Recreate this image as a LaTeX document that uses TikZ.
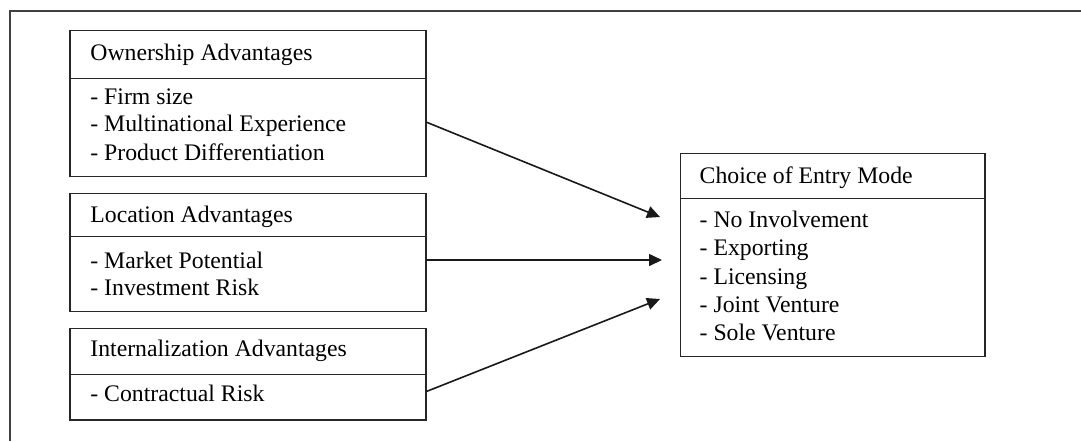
\documentclass[tikz,border=0pt]{standalone}
\usepackage{fontspec}
\setmainfont{Liberation Serif}
\usetikzlibrary{arrows.meta}
\begin{document}
\begin{tikzpicture}[x=0.5pt,y=-0.5pt,
  frame/.style={draw=black!75, line width=0.7pt},
  box/.style={draw=black!85, line width=0.6pt, anchor=north west, inner sep=0pt, outer sep=0pt},
  txt/.style={anchor=base west, inner sep=0pt, font=\fontsize{11.87}{14.2}\selectfont},
  arr/.style={draw=black!90, line width=0.8pt, -{Triangle[length=6.5pt,width=6pt]}}]
\useasboundingbox (0,0) rectangle (1081,441);
\fill[white] (0,0) rectangle (1081,441);
% outer frame (only top and left edges visible)
\draw[frame] (10,441) -- (10,11) -- (1081,11);

% Ownership box
\node[box, minimum width=178pt, minimum height=24pt] (ownh) at (70,30.7) {};
\node[box, minimum width=178pt, minimum height=49pt] (ownb) at (70,78.7) {};
\node[txt] (ownt) at (90,60) {Ownership Advantages};
\node[txt] (own1) at (90,104) {- Firm size};
\node[txt] (own2) at (90,131.7) {- Multinational Experience};
\node[txt] (own3) at (90,160) {- Product Differentiation};

% Location box
\node[box, minimum width=178pt, minimum height=21.7pt] (loch) at (70,193.3) {};
\node[box, minimum width=178pt, minimum height=37.5pt] (locb) at (70,236.7) {};
\node[txt] (loct) at (90,222.7) {Location Advantages};
\node[txt] (loc1) at (90,268.3) {- Market Potential};
\node[txt] (loc2) at (90,295) {- Investment Risk};

% Internalization box
\node[box, minimum width=178pt, minimum height=23pt] (inth) at (70,328.3) {};
\node[box, minimum width=178pt, minimum height=22.85pt] (intb) at (70,374.3) {};
\node[txt] (intt) at (90,356.7) {Internalization Advantages};
\node[txt] (int1) at (90,401) {- Contractual Risk};

% Choice box
\node[box, minimum width=152.15pt, minimum height=22.5pt] (choh) at (680.7,153.3) {};
\node[box, minimum width=152.15pt, minimum height=79.2pt] (chob) at (680.7,198.3) {};
\node[txt] (chot) at (699.3,183.3) {Choice of Entry Mode};
\node[txt] (cho1) at (699.3,227.3) {- No Involvement};
\node[txt] (cho2) at (699.3,255.7) {- Exporting};
\node[txt] (cho3) at (699.3,284) {- Licensing};
\node[txt] (cho4) at (699.3,312.3) {- Joint Venture};
\node[txt] (cho5) at (699.3,340) {- Sole Venture};

% arrow end points
\coordinate (e1) at (660,217);
\coordinate (e2) at (662,260);
\coordinate (e3) at (660,299);

\draw[arr] ([yshift=2.85pt]ownb.east) -- (e1);
\draw[arr] ([yshift=7.1pt]locb.east) -- (e2);
\draw[arr] ([yshift=2.75pt]intb.east) -- (e3);
\end{tikzpicture}
\end{document}
